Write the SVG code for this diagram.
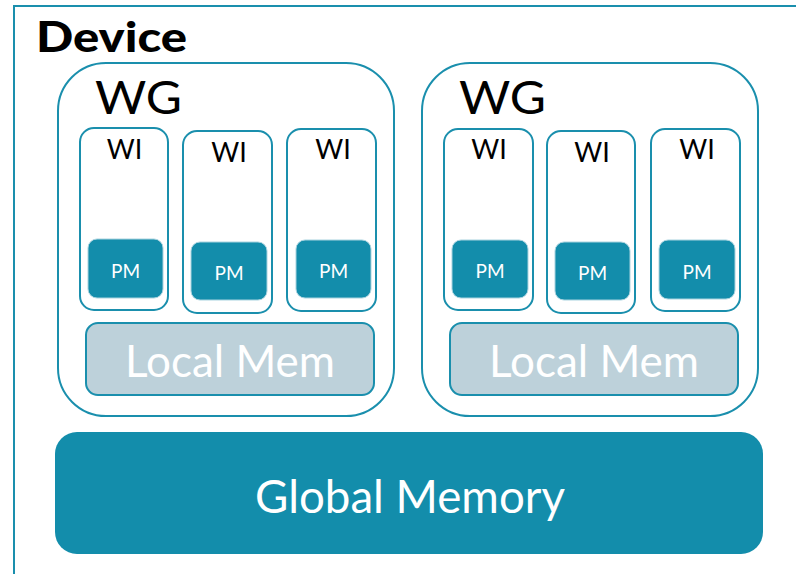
<svg xmlns="http://www.w3.org/2000/svg" width="796" height="574" viewBox="0 0 796 574">
  <style>
    .frame { fill: #ffffff; stroke: #1a8fad; stroke-width: 2; }
    .wg { fill: #ffffff; stroke: #1a8fad; stroke-width: 2; }
    .wi { fill: #ffffff; stroke: #1a8fad; stroke-width: 2; }
    .pm { fill: #138dab; stroke: #a9d3df; stroke-width: 1; }
    .lmem { fill: #bdd1da; stroke: #1a8fad; stroke-width: 2; }
    .gmem { fill: #138dab; }
    text { font-family: Lato, "Open Sans", "Liberation Sans", sans-serif; }
    .t-dev { font-size: 42px; font-weight: 900; fill: #000000; }
    .t-wg { font-size: 46px; fill: #000000; }
    .t-wi { font-size: 27px; fill: #000000; text-anchor: middle; }
    .t-pm { font-size: 19px; fill: #ffffff; text-anchor: middle; }
    .t-lm { font-size: 45px; fill: #ffffff; text-anchor: middle; }
    .t-gm { font-size: 47px; fill: #ffffff; text-anchor: middle; }
  </style>

  <rect width="796" height="574" fill="#ffffff"/>

  <g id="device">
    <rect class="frame" x="14" y="6" width="800" height="600"/>
    <text class="t-dev" x="36" y="52" textLength="151" lengthAdjust="spacingAndGlyphs">Device</text>
  </g>

  <g id="wg1">
    <rect class="wg" x="58" y="63" width="336" height="353" rx="48"/>
    <text class="t-wg" x="95" y="114" textLength="87" lengthAdjust="spacingAndGlyphs">WG</text>
  </g>
  <g id="wg1-wi1">
    <rect class="wi" x="80" y="128" width="88" height="182" rx="14"/>
    <text class="t-wi" x="124.5" y="159">WI</text>
    <rect class="pm" x="88" y="239" width="75" height="59" rx="9"/>
    <text class="t-pm" x="125.5" y="278">PM</text>
  </g>
  <g id="wg1-wi2">
    <rect class="wi" x="183" y="131" width="89" height="182" rx="14"/>
    <text class="t-wi" x="229" y="162">WI</text>
    <rect class="pm" x="191" y="242" width="76" height="58" rx="9"/>
    <text class="t-pm" x="229" y="280">PM</text>
  </g>
  <g id="wg1-wi3">
    <rect class="wi" x="287" y="129" width="89" height="182" rx="14"/>
    <text class="t-wi" x="333" y="159">WI</text>
    <rect class="pm" x="296" y="240" width="75" height="58" rx="9"/>
    <text class="t-pm" x="333.5" y="278">PM</text>
  </g>
  <g id="wg1-local">
    <rect class="lmem" x="86" y="323" width="288" height="72" rx="12"/>
    <text class="t-lm" x="230" y="377" textLength="210" lengthAdjust="spacingAndGlyphs">Local Mem</text>
  </g>

  <g id="wg2">
    <rect class="wg" x="422" y="63" width="336" height="353" rx="48"/>
    <text class="t-wg" x="459" y="114" textLength="87" lengthAdjust="spacingAndGlyphs">WG</text>
  </g>
  <g id="wg2-wi1">
    <rect class="wi" x="444" y="129" width="89" height="181" rx="14"/>
    <text class="t-wi" x="489" y="159">WI</text>
    <rect class="pm" x="452" y="240" width="76" height="58" rx="9"/>
    <text class="t-pm" x="490" y="278">PM</text>
  </g>
  <g id="wg2-wi2">
    <rect class="wi" x="547" y="131" width="88" height="182" rx="14"/>
    <text class="t-wi" x="592" y="162">WI</text>
    <rect class="pm" x="555" y="242" width="75" height="58" rx="9"/>
    <text class="t-pm" x="592.5" y="280">PM</text>
  </g>
  <g id="wg2-wi3">
    <rect class="wi" x="651" y="129" width="89" height="182" rx="14"/>
    <text class="t-wi" x="697" y="159">WI</text>
    <rect class="pm" x="659" y="240" width="76" height="59" rx="9"/>
    <text class="t-pm" x="697" y="279">PM</text>
  </g>
  <g id="wg2-local">
    <rect class="lmem" x="450" y="323" width="288" height="72" rx="12"/>
    <text class="t-lm" x="594" y="377" textLength="210" lengthAdjust="spacingAndGlyphs">Local Mem</text>
  </g>

  <g id="global-memory">
    <rect class="gmem" x="55" y="432" width="708" height="122" rx="22"/>
    <text class="t-gm" x="410" y="513" textLength="310" lengthAdjust="spacingAndGlyphs">Global Memory</text>
  </g>

  <g id="connectors"/>
</svg>
